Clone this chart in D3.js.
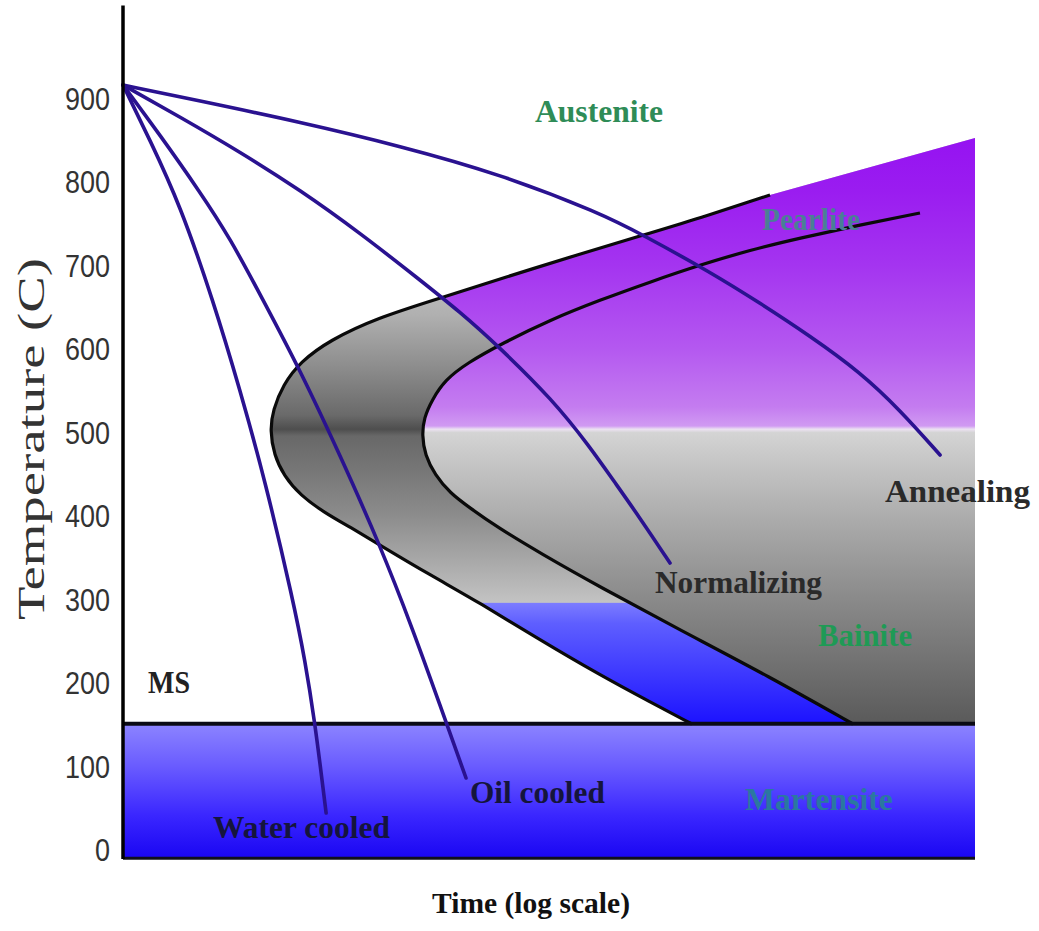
<!DOCTYPE html>
<html><head><meta charset="utf-8">
<script src="https://cdn.jsdelivr.net/npm/d3@7"></script>
<style>html,body{margin:0;padding:0;background:#fff;}svg{display:block}</style>
</head><body>
<script>
// ---------- data (x = log10 time, arbitrary units; y = temperature in C) ----------
const yTicks = [0,100,200,300,400,500,600,700,800,900];
const msTemp = 150;
const bainiteBlueTop = 295;
const xMax = 5;
const waterCooled = [[0,915.6],[0.158,849.7],[0.335,771.8],[0.528,657.9],[0.687,550.1],[0.833,442.2],[0.998,298.4],[1.068,226.5],[1.127,149.8],[1.168,82.7],[1.192,43.1]];
const oilCooled   = [[0,915.6],[0.217,855.7],[0.452,787.4],[0.628,732.2],[0.822,657.9],[1.039,574.0],[1.273,472.2],[1.508,364.3],[1.702,262.5],[1.860,172.6],[2.013,85.1]];
const normalizing = [[0,915.6],[0.335,877.2],[0.687,835.3],[1.039,789.8],[1.391,738.2],[1.743,681.9],[1.978,643.5],[2.195,604.0],[2.523,538.1],[2.740,481.8],[2.876,442.2],[3.034,396.7],[3.210,342.7]];
const annealing   = [[0,915.6],[0.452,896.4],[1.039,871.2],[1.626,842.5],[2.212,808.9],[2.799,762.2],[3.052,735.8],[3.445,691.5],[3.738,654.3],[4.032,614.8],[4.325,571.6],[4.560,526.1],[4.795,472.2]];
const startCurve  = [[3.797,783.8],[3.386,756.2],[3.034,734.6],[2.682,713.1],[2.230,684.3],[1.843,659.1],[1.491,636.4],[1.215,610.0],[1.039,583.6],[0.939,556.1],[0.880,526.1],[0.863,502.1],[0.886,472.2],[0.945,447.0],[1.039,424.2],[1.185,402.7],[1.332,385.9],[1.526,361.9],[1.802,328.4],[2.095,294.8],[2.447,250.5],[2.799,208.5],[3.093,176.2],[3.339,149.8]];
const finishCurve = [[4.677,762.2],[4.325,747.8],[3.973,732.2],[3.680,717.8],[3.386,699.9],[3.093,679.5],[2.799,657.9],[2.506,634.0],[2.230,606.4],[2.019,582.4],[1.890,562.1],[1.813,538.1],[1.766,516.5],[1.755,496.1],[1.772,472.2],[1.831,448.2],[1.919,426.6],[2.036,408.7],[2.195,385.9],[2.447,354.7],[2.799,314.0],[3.269,262.5],[3.797,206.1],[4.284,149.8]];
const pearliteTopEnd = [5.0,852];
const pearliteCut = [[0.79,870],[1.89,661],[2.19,604],[2.74,500],[5.2,500],[5.2,870]];
const curveNames = ['Water cooled','Oil cooled','Normalizing','Annealing'];
const regionNames = ['Austenite','Pearlite','Bainite','Martensite','MS'];
const labelPos = {
  'Austenite':[2.418,871.2], 'Pearlite':[3.750,741.8], 'Annealing':[4.472,415.8],
  'Normalizing':[3.122,306.8], 'Bainite':[4.079,243.3], 'MS':[0.147,187.0],
  'Oil cooled':[2.036,55.1], 'Martensite':[3.650,46.7], 'Water cooled':[0.528,13.2]
};
const xTitle = 'Time (log scale)';
const yTitle = 'Temperature (C)';

// ---------- setup ----------
const W = 1039, H = 931;
const x = d3.scaleLinear().domain([0, xMax]).range([123, 975]);
const y = d3.scaleLinear().domain([0, 900]).range([849, 98]);
const svg = d3.select('body').append('svg').attr('width', W).attr('height', H);
const defs = svg.append('defs');

function vGrad(id, top, bottom, stops) {
  const g = defs.append('linearGradient').attr('id', id).attr('gradientUnits','userSpaceOnUse')
    .attr('x1',0).attr('x2',0).attr('y1',y(top)).attr('y2',y(bottom));
  stops.forEach(([v,c]) => g.append('stop').attr('offset',(top - v)/(top - bottom)).attr('stop-color',c));
}
vGrad('gMain', 870, 150, [[870,'#9410f2'],[790,'#9a1cf0'],[700,'#a434f0'],[600,'#b458f0'],[530,'#c47cf0'],[507,'#d09af2'],[503,'#ece2f2'],[499,'#d4d4d4'],[470,'#c8c8c8'],[400,'#adadad'],[300,'#8a8a8a'],[200,'#6a6a6a'],[150,'#5a5a5a']]);
vGrad('gBand', 700, 290, [[700,'#c4c4c4'],[640,'#b0b0b0'],[580,'#8e8e8e'],[520,'#6a6a6a'],[503,'#4e4e4e'],[495,'#686868'],[450,'#787878'],[400,'#8c8c8c'],[350,'#a6a6a6'],[290,'#c6c6c6']]);
vGrad('gBlue', bainiteBlueTop, msTemp, [[bainiteBlueTop,'#7c7cff'],[270,'#5e5eff'],[150,'#1c12ff']]);
vGrad('gMart', msTemp, -11, [[150,'#8c84ff'],[100,'#6a5cff'],[40,'#3a26ff'],[-11,'#1a06f2']]);

const line = d3.line().x(d => x(d[0])).y(d => y(d[1])).curve(d3.curveBasis);
const straight = d3.line().x(d => x(d[0])).y(d => y(d[1]));

const outerD = line(startCurve) + `L${x(xMax)},${y(msTemp)}L${x(pearliteTopEnd[0])},${y(pearliteTopEnd[1])}Z`;
const innerD = line(finishCurve) + `L${x(xMax)},${y(msTemp)}L${x(xMax)},${y(finishCurve[0][1])}Z`;
defs.append('clipPath').attr('id','clipOuter').append('path').attr('d', outerD);

// martensite
svg.append('rect').attr('x', x(0)).attr('y', y(msTemp)).attr('width', x(xMax)-x(0))
  .attr('height', y(-11)-y(msTemp)).attr('fill','url(#gMart)');
// transformation band
svg.append('path').attr('d', outerD).attr('fill','url(#gBand)');
svg.append('rect').attr('clip-path','url(#clipOuter)').attr('x', x(0)).attr('y', y(bainiteBlueTop))
  .attr('width', x(xMax)-x(0)).attr('height', y(msTemp)-y(bainiteBlueTop)).attr('fill','url(#gBlue)');
svg.append('path').attr('clip-path','url(#clipOuter)').attr('d', straight(pearliteCut)+'Z').attr('fill','url(#gMain)');
svg.append('path').attr('d', innerD).attr('fill','url(#gMain)');
// curves
svg.append('path').attr('d', line(startCurve)).attr('fill','none').attr('stroke','#0a0a0a').attr('stroke-width',3.2);
svg.append('path').attr('d', line(finishCurve)).attr('fill','none').attr('stroke','#0a0a0a').attr('stroke-width',3.2);
// MS line and bottom edge
svg.append('line').attr('x1',x(0)).attr('x2',x(xMax)).attr('y1',y(msTemp)).attr('y2',y(msTemp)).attr('stroke','#0a0a14').attr('stroke-width',4);
svg.append('line').attr('x1',x(0)).attr('x2',x(xMax)).attr('y1',y(-11)).attr('y2',y(-11)).attr('stroke','#10101c').attr('stroke-width',3);
// cooling curves
[waterCooled, oilCooled, normalizing, annealing].forEach(c =>
  svg.append('path').attr('d', line(c)).attr('fill','none').attr('stroke','#2a1290').attr('stroke-width',3.6).attr('stroke-linecap','round'));
// y axis
svg.append('line').attr('x1',x(0)).attr('x2',x(0)).attr('y1',y(1011)).attr('y2',y(-12)).attr('stroke','#000').attr('stroke-width',3.5);
const ax = svg.append('g').attr('transform',`translate(${x(0)},0)`)
  .call(d3.axisLeft(y).tickValues(yTicks).tickSize(0).tickPadding(13));
ax.select('.domain').remove();
ax.selectAll('text').attr('font-family','"Liberation Sans", Arial, sans-serif').attr('font-size',32)
  .attr('fill','#333').attr('dy','0.36em')
  .attr('textLength', d => String(d).length*15).attr('lengthAdjust','spacingAndGlyphs');

// labels
const styles = {
  'Austenite':['#2f8c57',128], 'Pearlite':['#4a7f95',98], 'Annealing':['#2a2a2a',145],
  'Normalizing':['#2a2a2a',167], 'Bainite':['#1f9a55',94], 'MS':['#222',42],
  'Oil cooled':['#15153c',135], 'Martensite':['#2a78a0',148], 'Water cooled':['#15153c',177]
};
[...curveNames, ...regionNames].forEach(t => {
  const p = labelPos[t], s = styles[t];
  svg.append('text').attr('x', x(p[0])).attr('y', y(p[1])).text(t)
    .attr('font-family','"Liberation Serif", "Times New Roman", serif').attr('font-weight','bold')
    .attr('font-size',31).attr('fill',s[0]).attr('textLength',s[1]).attr('lengthAdjust','spacingAndGlyphs');
});
svg.append('text').attr('x',432).attr('y',913).text(xTitle)
  .attr('font-family','"Liberation Serif", "Times New Roman", serif').attr('font-weight','bold')
  .attr('font-size',29).attr('fill','#111').attr('textLength',198).attr('lengthAdjust','spacingAndGlyphs');
svg.append('text').attr('transform','translate(44,439) rotate(-90)').attr('text-anchor','middle').text(yTitle)
  .attr('font-family','"Liberation Serif", "Times New Roman", serif')
  .attr('font-size',37).attr('fill','#333').attr('textLength',362).attr('lengthAdjust','spacingAndGlyphs');
</script>
</body></html>
